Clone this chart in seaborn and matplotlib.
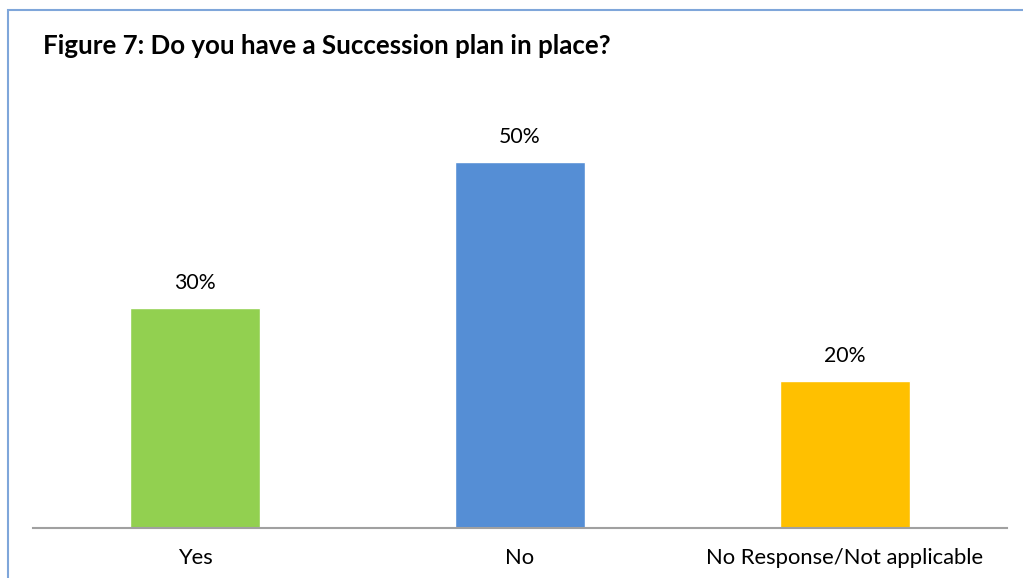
import matplotlib
matplotlib.use("Agg")
import matplotlib.pyplot as plt
import seaborn as sns
import pandas as pd
from matplotlib.patches import Rectangle

categories = ["Yes", "No", "No Response/Not applicable"]
values = [30, 50, 20]
colors = ["#92D050", "#558ED5", "#FFC000"]
title = "Figure 7: Do you have a Succession plan in place?"

sns.set_theme(style="white")
plt.rcParams["font.family"] = ["Lato", "DejaVu Sans"]

df = pd.DataFrame({"category": categories, "value": values})

fig = plt.figure(figsize=(10.23, 5.78), dpi=100)
ax = fig.add_axes([33 / 1023, 1 - 527.5 / 578, 974 / 1023, (527.5 - 88.3) / 578])

sns.barplot(data=df, x="category", y="value", hue="category", palette=colors,
            legend=False, width=0.4, ax=ax, saturation=1)

for i, v in enumerate(values):
    ax.text(i, v + 2.0, f"{v}%", ha="center", va="bottom", fontsize=15.3, color="#000000")

ax.set_ylim(0, 60)
ax.set_xlim(-0.5, 2.5)
ax.set_yticks([])
ax.set_xlabel("")
ax.set_ylabel("")
for s in ["top", "right", "left"]:
    ax.spines[s].set_visible(False)
ax.spines["bottom"].set_color("#A0A0A0")
ax.spines["bottom"].set_linewidth(1.5)
ax.tick_params(axis="x", length=0, pad=15, labelsize=15.8, colors="#000000")

fig.text(43 / 1023, 1 - 46 / 578, title, fontsize=18.6, fontweight="bold",
         ha="left", va="center", color="#000000")

border = Rectangle((8 / 1023, -0.1), 1.2, 1 - 10 / 578 + 0.1, transform=fig.transFigure,
                   fill=False, edgecolor="#7FA6DA", linewidth=1.5, clip_on=False)
fig.patches.append(border)

fig.savefig("out.png", dpi=100)
